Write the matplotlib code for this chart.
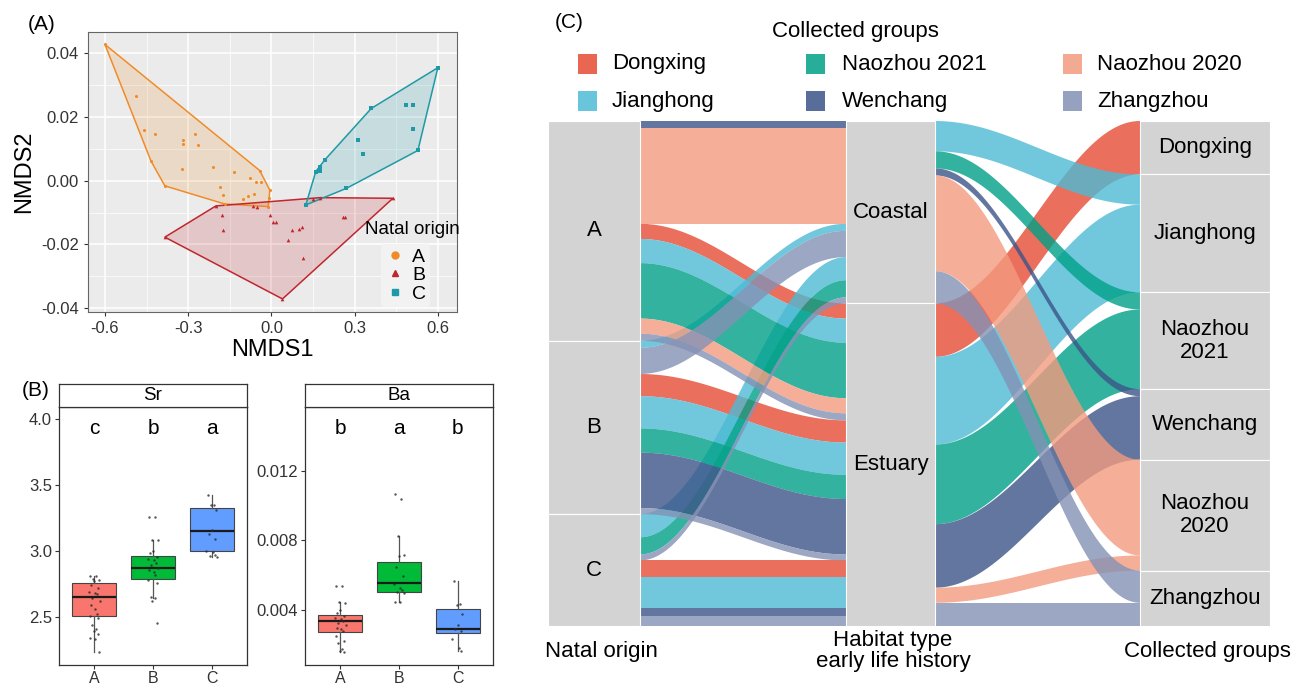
import numpy as np
import matplotlib
matplotlib.use("Agg")
import matplotlib.pyplot as plt
from matplotlib.patches import Rectangle, Polygon
from matplotlib.lines import Line2D

plt.rcParams['font.family'] = ['Liberation Sans', 'DejaVu Sans']

# ======================= DATA =======================
# ---- Panel A: NMDS scores by natal origin ----
nmds_a_x = [-0.600, -0.488, -0.460, -0.434, -0.420, -0.384, -0.320, -0.320, -0.323, -0.276,
            -0.266, -0.212, -0.186, -0.176, -0.168, -0.134, -0.104, -0.084, -0.078, -0.064,
            -0.056, -0.042, -0.036, -0.012, -0.008, -0.006]
nmds_a_y = [0.0428, 0.0266, 0.0159, 0.0062, 0.0146, -0.0016, 0.0128, 0.0116, 0.0037, 0.0146,
            0.0112, 0.0042, -0.0021, -0.0044, -0.0073, 0.0027, -0.0058, -0.0048, 0.0008, -0.0042,
            -0.0005, 0.0032, -0.0005, -0.0081, -0.0055, -0.0029]
nmds_b_x = [-0.384, -0.200, -0.178, -0.174, -0.066, -0.052, -0.006, 0.004, 0.016, 0.040,
            0.060, 0.076, 0.100, 0.112, 0.114, 0.150, 0.176, 0.258, 0.264, 0.438]
nmds_b_y = [-0.0177, -0.0079, -0.0109, -0.0154, -0.0079, -0.0081, -0.0107, -0.0128, -0.0131, -0.0371,
            -0.0186, -0.0156, -0.0150, -0.0146, -0.0243, -0.0058, -0.0053, -0.0115, -0.0115, -0.0055]
nmds_c_x = [0.124, 0.160, 0.176, 0.176, 0.192, 0.270, 0.312, 0.330, 0.360, 0.486, 0.510, 0.510, 0.528, 0.600]
nmds_c_y = [-0.0076, 0.0029, 0.0044, 0.0031, 0.0065, -0.0024, 0.0128, 0.0084, 0.0227, 0.0237,
            0.0237, 0.0162, 0.0095, 0.0355]
natal_labels = ["A", "B", "C"]
natal_colors = ["#F08C28", "#C0262D", "#1E9AA6"]
natal_markers = ["o", "^", "s"]
nmds_xticks = [-0.6, -0.3, 0.0, 0.3, 0.6]
nmds_xticklabels = ["-0.6", "-0.3", "0.0", "0.3", "0.6"]
nmds_yticks = [-0.04, -0.02, 0.00, 0.02, 0.04]
nmds_yticklabels = ["-0.04", "-0.02", "0.00", "0.02", "0.04"]

# ---- Panel B: boxplots of Sr and Ba ----
box_categories = ["A", "B", "C"]
box_colors = ["#F8766D", "#00BA38", "#619CFF"]
sr_q1 = [2.505, 2.785, 3.000]
sr_med = [2.648, 2.870, 3.150]
sr_q3 = [2.755, 2.960, 3.325]
sr_lo = [2.230, 2.640, 2.955]
sr_hi = [2.810, 3.085, 3.420]
sr_pts_A = [2.81, 2.81, 2.79, 2.78, 2.77, 2.74, 2.72, 2.69, 2.68, 2.67, 2.64, 2.62, 2.59, 2.56,
            2.52, 2.51, 2.49, 2.44, 2.41, 2.39, 2.37, 2.34, 2.33, 2.23]
sr_pts_B = [3.26, 3.255, 3.085, 3.08, 3.00, 2.98, 2.955, 2.94, 2.93, 2.91, 2.89, 2.87, 2.855,
            2.84, 2.82, 2.78, 2.755, 2.65, 2.64, 2.62, 2.45]
sr_pts_C = [3.42, 3.35, 3.345, 3.31, 3.155, 3.13, 3.09, 3.00, 2.99, 2.97, 2.96, 2.955]
sr_letters = ["c", "b", "a"]
sr_yticks = [2.5, 3.0, 3.5, 4.0]
ba_q1 = [0.00271, 0.00499, 0.00267]
ba_med = [0.00334, 0.00552, 0.00286]
ba_q3 = [0.00368, 0.00675, 0.00404]
ba_lo = [0.00153, 0.00445, 0.00163]
ba_hi = [0.00442, 0.00826, 0.00567]
ba_pts_A = [0.00539, 0.00539, 0.00442, 0.00438, 0.00396, 0.00381, 0.00366, 0.00353, 0.00343,
            0.00334, 0.00320, 0.00309, 0.00296, 0.00286, 0.00277, 0.00248, 0.00220, 0.00206,
            0.00172, 0.00160, 0.00153]
ba_pts_B = [0.01067, 0.01040, 0.00826, 0.00713, 0.00710, 0.00647, 0.00593, 0.00548, 0.00523,
            0.00514, 0.00499, 0.00497, 0.00445, 0.00442]
ba_pts_C = [0.00567, 0.00434, 0.00428, 0.00375, 0.00314, 0.00286, 0.00277, 0.00229, 0.00176, 0.00163]
ba_letters = ["b", "a", "b"]
ba_yticks = [0.004, 0.008, 0.012]

# ---- Panel C: alluvial (natal origin -> habitat -> collected group) ----
groups = ["Dongxing", "Jianghong", "Naozhou 2021", "Wenchang", "Naozhou 2020", "Zhangzhou"]
group_axis_labels = ["Dongxing", "Jianghong", "Naozhou\n2021", "Wenchang", "Naozhou\n2020", "Zhangzhou"]
group_colors = ["#E64B35", "#4DBBD5", "#00A087", "#3C5488", "#F39B7F", "#8491B4"]
natal_levels = ["A", "B", "C"]
habitat_levels = ["Coastal", "Estuary"]
flow_natal = ["A"] * 7 + ["B"] * 7 + ["C"] * 7
flow_habitat = ["Coastal", "Coastal", "Estuary", "Estuary", "Estuary", "Estuary", "Estuary",
                "Coastal", "Coastal", "Estuary", "Estuary", "Estuary", "Estuary", "Estuary",
                "Coastal", "Coastal", "Coastal", "Estuary", "Estuary", "Estuary", "Estuary"]
flow_group = ["Wenchang", "Naozhou 2020", "Dongxing", "Jianghong", "Naozhou 2021", "Naozhou 2020", "Zhangzhou",
              "Jianghong", "Zhangzhou", "Dongxing", "Jianghong", "Naozhou 2021", "Wenchang", "Zhangzhou",
              "Jianghong", "Naozhou 2021", "Zhangzhou", "Dongxing", "Jianghong", "Wenchang", "Zhangzhou"]
flow_weight = [7, 95, 15, 24, 55, 15, 7,
               7, 26, 22, 32, 24, 55, 6,
               23, 17, 6, 16, 31, 8, 10]

# ======================= FIGURE =======================
W, H = 1309, 686
fig = plt.figure(figsize=(W / 100, H / 100), dpi=100)


def px_axes(x0, y0, x1, y1):
    return fig.add_axes([x0 / W, 1 - y1 / H, (x1 - x0) / W, (y1 - y0) / H])


def ftext(x, y, s, **kw):
    return fig.text(x / W, 1 - y / H, s, **kw)


# ---------------- Panel A ----------------
def convex_hull(xs, ys):
    pts = sorted(set(zip(xs, ys)))

    def cross(o, a, b):
        return (a[0] - o[0]) * (b[1] - o[1]) - (a[1] - o[1]) * (b[0] - o[0])
    lower, upper = [], []
    for p in pts:
        while len(lower) >= 2 and cross(lower[-2], lower[-1], p) <= 0:
            lower.pop()
        lower.append(p)
    for p in reversed(pts):
        while len(upper) >= 2 and cross(upper[-2], upper[-1], p) <= 0:
            upper.pop()
        upper.append(p)
    return lower[:-1] + upper[:-1]


axA = px_axes(88, 32, 457, 312)
axA.set_facecolor("#EBEBEB")
axA.set_xlim(-0.661, 0.669)
axA.set_ylim(-0.0412, 0.0467)
for v in nmds_xticks:
    axA.axvline(v, color="white", lw=1.1, zorder=0)
for v in np.array(nmds_xticks[:-1]) + 0.15:
    axA.axvline(v, color="white", lw=0.5, zorder=0)
for v in nmds_yticks:
    axA.axhline(v, color="white", lw=1.1, zorder=0)
for v in np.array(nmds_yticks[:-1]) + 0.01:
    axA.axhline(v, color="white", lw=0.5, zorder=0)

series = [(nmds_a_x, nmds_a_y), (nmds_b_x, nmds_b_y), (nmds_c_x, nmds_c_y)]
for (xs, ys), col, mk, lab in zip(series, natal_colors, natal_markers, natal_labels):
    hull = convex_hull(xs, ys)
    axA.add_patch(Polygon(hull, closed=True, fc=col, alpha=0.18, ec="none", zorder=1))
    axA.add_patch(Polygon(hull, closed=True, fc="none", ec=col, lw=1.1, zorder=2))
    axA.scatter(xs, ys, s=5 if mk != "^" else 7, marker=mk, color=col, zorder=3, linewidths=0)

axA.set_xticks(nmds_xticks)
axA.set_xticklabels(nmds_xticklabels)
axA.set_yticks(nmds_yticks)
axA.set_yticklabels(nmds_yticklabels)
axA.tick_params(labelsize=12, colors="#333333", length=3, width=0.8)
for sp in axA.spines.values():
    sp.set_color("#666666")
    sp.set_linewidth(0.8)
axA.set_xlabel("NMDS1", fontsize=17, labelpad=2)
axA.set_ylabel("NMDS2", fontsize=17, labelpad=4)

leg_handles = [Line2D([], [], marker=m, color=c, ls="none", ms=5) for m, c in zip(natal_markers, natal_colors)]
lg = axA.legend(leg_handles, natal_labels, loc="upper left", bbox_to_anchor=((381 - 88) / 369, (312 - 244) / 280),
                fontsize=14, frameon=True, facecolor="#F2F2F2", edgecolor="none", framealpha=1,
                handlelength=1.0, handletextpad=0.4, labelspacing=0.05, borderpad=0.2, borderaxespad=0)
axA.text((365 - 88) / 369, (312 - 230) / 280, "Natal origin", transform=axA.transAxes,
         fontsize=13.5, ha="left", va="center", zorder=10)

ftext(42, 25, "(A)", fontsize=15, ha="center", va="center")

# ---------------- Panel B ----------------
jitter_pattern = np.array([-0.07, 0.03, -0.02, 0.08, 0.0, -0.05, 0.06, -0.09, 0.02, 0.05,
                           -0.03, 0.09, -0.06, 0.01, 0.04, -0.08, 0.07, -0.04, 0.03, -0.01,
                           0.06, -0.07, 0.02, 0.08])


def box_panel(rect, title, q1, med, q3, lo, hi, pts, letters, yticks, ylim, ticklabels, letter_y):
    x0, y0, x1, y1 = rect
    ax = px_axes(x0, y0, x1, y1)
    stats = [dict(med=m, q1=a, q3=b, whislo=l, whishi=h, fliers=[])
             for a, m, b, l, h in zip(q1, med, q3, lo, hi)]
    bp = ax.bxp(stats, positions=[1, 2, 3], widths=0.75, patch_artist=True, showcaps=False,
                showfliers=False,
                boxprops=dict(edgecolor="#444444", linewidth=0.8),
                medianprops=dict(color="#1a1a1a", linewidth=1.6),
                whiskerprops=dict(color="#555555", linewidth=0.9))
    for patch, c in zip(bp["boxes"], box_colors):
        patch.set_facecolor(c)
    for i, vals in enumerate(pts):
        xs = i + 1 + jitter_pattern[:len(vals)]
        ax.scatter(xs, vals, s=3, color="#2b2b2b", alpha=0.8, linewidths=0, zorder=4)
    for i, L in enumerate(letters):
        ax.text(i + 1, letter_y, L, ha="center", va="center", fontsize=15)
    ax.set_xlim(0.4, 3.6)
    ax.set_ylim(*ylim)
    ax.set_xticks([1, 2, 3])
    ax.set_xticklabels(box_categories)
    ax.set_yticks(yticks)
    ax.set_yticklabels(ticklabels)
    ax.tick_params(axis="y", labelsize=12, colors="#333333", length=3, width=0.8, pad=2)
    ax.tick_params(axis="x", labelsize=11.5, colors="#333333", length=3, width=0.8, pad=1)
    for sp in ax.spines.values():
        sp.set_color("#333333")
        sp.set_linewidth(0.9)
    st = px_axes(x0, 384, x1, y0)
    st.set_xticks([])
    st.set_yticks([])
    st.set_facecolor("white")
    for sp in st.spines.values():
        sp.set_color("#333333")
        sp.set_linewidth(0.9)
    st.text(0.5, 0.5, title, ha="center", va="center", fontsize=13.5, transform=st.transAxes)
    return ax


box_panel((59, 407, 247, 665), "Sr", sr_q1, sr_med, sr_q3, sr_lo, sr_hi,
          [sr_pts_A, sr_pts_B, sr_pts_C], sr_letters, sr_yticks, (2.135, 4.09),
          ["2.5", "3.0", "3.5", "4.0"], 3.93)
box_panel((305, 407, 493, 665), "Ba", ba_q1, ba_med, ba_q3, ba_lo, ba_hi,
          [ba_pts_A, ba_pts_B, ba_pts_C], ba_letters, ba_yticks, (0.0008, 0.01571),
          ["0.004", "0.008", "0.012"], 0.01448)
ftext(36, 390, "(B)", fontsize=15, ha="center", va="center")

# ---------------- Panel C ----------------
total = float(sum(flow_weight))
axC = px_axes(548, 121, 1270, 626)
axC.set_xlim(548, 1270)
axC.set_ylim(total, 0)
axC.axis("off")
strata_x = [(548, 640), (846, 935), (1140, 1270)]

gi = {g: i for i, g in enumerate(groups)}
ni = {g: i for i, g in enumerate(natal_levels)}
hi_ = {g: i for i, g in enumerate(habitat_levels)}
n = len(flow_weight)


def stack(order, weights):
    pos = {}
    y = 0.0
    for k in order:
        pos[k] = (y, y + weights[k])
        y += weights[k]
    return pos


def draw_flow(x0, x1, t0, b0, t1, b1, color):
    t = np.linspace(0, 1, 100)
    s = (1 - np.cos(np.pi * t)) / 2
    xs = x0 + (x1 - x0) * t
    yt = t0 + (t1 - t0) * s
    yb = b0 + (b1 - b0) * s
    verts = np.column_stack([np.r_[xs, xs[::-1]], np.r_[yt, yb[::-1]]])
    axC.add_patch(Polygon(verts, closed=True, fc=color, ec="none", alpha=0.8, zorder=2))


# flows axis1 -> axis2
left1 = stack(sorted(range(n), key=lambda k: (ni[flow_natal[k]], hi_[flow_habitat[k]], gi[flow_group[k]])), flow_weight)
right1 = stack(sorted(range(n), key=lambda k: (hi_[flow_habitat[k]], ni[flow_natal[k]], gi[flow_group[k]])), flow_weight)
for k in sorted(range(n), key=lambda k: (gi[flow_group[k]], ni[flow_natal[k]])):
    draw_flow(strata_x[0][1], strata_x[1][0], left1[k][0], left1[k][1], right1[k][0], right1[k][1],
              group_colors[gi[flow_group[k]]])

# flows axis2 -> axis3 (aggregated over natal origin)
agg_keys = []
agg_w = []
for h in habitat_levels:
    for g in groups:
        w = sum(fw for fh, fg, fw in zip(flow_habitat, flow_group, flow_weight) if fh == h and fg == g)
        if w > 0:
            agg_keys.append((h, g))
            agg_w.append(w)
m = len(agg_w)
left2 = stack(sorted(range(m), key=lambda k: (hi_[agg_keys[k][0]], gi[agg_keys[k][1]])), agg_w)
right2 = stack(sorted(range(m), key=lambda k: (gi[agg_keys[k][1]], hi_[agg_keys[k][0]])), agg_w)
for k in sorted(range(m), key=lambda k: (gi[agg_keys[k][1]], hi_[agg_keys[k][0]])):
    draw_flow(strata_x[1][1], strata_x[2][0], left2[k][0], left2[k][1], right2[k][0], right2[k][1],
              group_colors[gi[agg_keys[k][1]]])


# strata
def draw_strata(xr, levels, labels, key_list):
    y = 0.0
    for lev, lab in zip(levels, labels):
        w = sum(fw for kv, fw in zip(key_list, flow_weight) if kv == lev)
        axC.add_patch(Rectangle((xr[0], y), xr[1] - xr[0], w, fc="#D3D3D3", ec="white", lw=0.8, zorder=3))
        axC.text((xr[0] + xr[1]) / 2, y + w / 2, lab, ha="center", va="center", fontsize=16,
                 zorder=5, linespacing=1.15)
        y += w


draw_strata(strata_x[0], natal_levels, natal_levels, flow_natal)
draw_strata(strata_x[1], habitat_levels, habitat_levels, flow_habitat)
draw_strata(strata_x[2], groups, group_axis_labels, flow_group)

# axis titles under panel C
ftext(545, 652, "Natal origin", fontsize=16, ha="left", va="center")
ftext(893, 651, "Habitat type\nearly life history", fontsize=16, ha="center", va="center", linespacing=1.0)
ftext(1207, 652, "Collected groups", fontsize=16, ha="center", va="center")

# legend of panel C
ftext(569, 22, "(C)", fontsize=15, ha="center", va="center")
ftext(772, 31, "Collected groups", fontsize=16, ha="left", va="center")
sq_x = [578, 806, 1063]
lab_x = [612, 842, 1097]
row_y = [64, 101]
for i, (g, c) in enumerate(zip(groups, group_colors)):
    col, row = i // 2, i % 2
    fig.add_artist(Rectangle((sq_x[col] / W, 1 - (row_y[row] + 9.5) / H), 19 / W, 19 / H,
                             transform=fig.transFigure, fc=c, ec="none", alpha=0.85))
    ftext(lab_x[col], row_y[row], g, fontsize=16, ha="left", va="center")

fig.savefig("out.png", dpi=100)
